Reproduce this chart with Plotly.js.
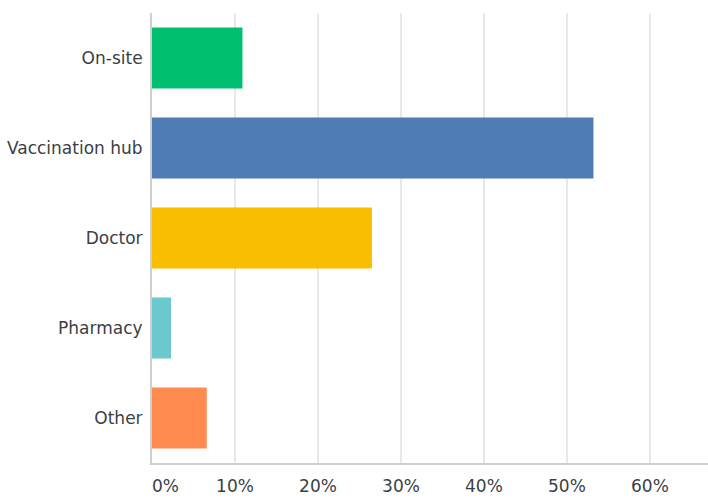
<!DOCTYPE html>
<html>
<head>
<meta charset="utf-8">
<script src="https://cdn.plot.ly/plotly-3.0.1.min.js"></script>
<style>html,body{margin:0;padding:0;background:#fff;}#chart{width:708px;height:500px;}</style>
</head>
<body>
<div id="chart"></div>
<script>
// Data (percent of respondents)
const categories = ["On-site", "Vaccination hub", "Doctor", "Pharmacy", "Other"];
const values = [10.9, 53.2, 26.5, 2.3, 6.6];
const barColors = ["#00BF6F", "#507CB6", "#F9BE00", "#6BC8CD", "#FF8B4F"];
const tickValues = [0, 10, 20, 30, 40, 50, 60];
const tickLabels = ["\u00a0\u00a0\u00a0\u00a0\u00a00%", "10%", "20%", "30%", "40%", "50%", "60%"];

const trace = {
  type: "bar",
  orientation: "h",
  y: categories,
  x: values,
  marker: {color: barColors},
  hoverinfo: "none"
};

const layout = {
  width: 708,
  height: 500,
  margin: {l: 152, r: 0, t: 13, b: 37, pad: 0},
  paper_bgcolor: "#ffffff",
  plot_bgcolor: "#ffffff",
  showlegend: false,
  bargap: 0.32,
  font: {family: "DejaVu Sans", size: 17, color: "#3b3f45"},
  xaxis: {
    range: [0, 67],
    tickvals: tickValues,
    ticktext: tickLabels,
    showgrid: true,
    gridcolor: "#e8e8e8",
    gridwidth: 1.5,
    zeroline: false,
    showline: true,
    linecolor: "#cfcfcf",
    linewidth: 2,
    ticks: "",
    ticklabelstandoff: 7,
    fixedrange: true,
    automargin: false
  },
  yaxis: {
    autorange: "reversed",
    showgrid: false,
    zeroline: false,
    showline: true,
    linecolor: "#cfcfcf",
    linewidth: 2,
    ticks: "",
    ticklabelstandoff: 4,
    fixedrange: true,
    automargin: false
  }
};

Plotly.newPlot("chart", [trace], layout, {displayModeBar: false, staticPlot: true});
</script>
</body>
</html>
